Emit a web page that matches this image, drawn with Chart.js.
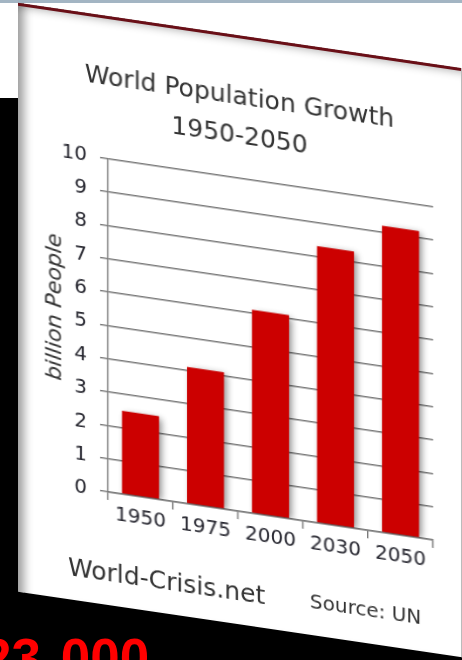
<!DOCTYPE html>
<html>
<head>
<meta charset="utf-8">
<script src="https://cdn.jsdelivr.net/npm/chart.js@4"></script>
<style>
    html, body { margin: 0; padding: 0; }
    body { width: 462px; height: 660px; overflow: hidden; position: relative; background: #fff; font-family: 'DejaVu Sans', Verdana, sans-serif; }
    .top-strip { position: absolute; left: 0; top: 0; width: 462px; height: 3px; background: #a3b5c3; }
    .backdrop { position: absolute; left: 0; top: 98px; width: 462px; height: 562px; background: #000; }
    .big-number { position: absolute; left: -18px; top: 631px; font: bold 53px 'Liberation Sans', Arial, sans-serif; line-height: 1; color: #ff0000; white-space: pre; word-spacing: 5px; }
    /* the whole card is leaned like the photo */
    .stage { position: absolute; left: 0; top: 0; width: 462px; height: 660px; transform: skewY(8.4deg); transform-origin: 0 0; }
    .card { position: absolute; left: 18px; top: 0; width: 443px; height: 589px; background: #fff;
            box-shadow: inset 14px 0 10px -8px rgba(0,0,0,0.38), inset 0 12px 8px -8px rgba(0,0,0,0.3); border-right: 1px solid #bbb; }
    .card-line { position: absolute; left: 0; top: 0; width: 100%; height: 3px; background: #6a0f17; }
    .card canvas { position: absolute; left: 0; top: 0; }
    .footer-left { position: absolute; left: 50px; top: 544px; font-size: 25px; line-height: 1; color: #333; }
    .footer-right { position: absolute; left: 292px; top: 545px; font-size: 20px; line-height: 1; color: #333; }
</style>
</head>
<body>
<div class="top-strip"></div>
<div class="backdrop"></div>
<div class="big-number">23 000</div>
<div class="stage">
    <div class="card">
        <canvas id="population-chart" width="443" height="589"></canvas>
        <div class="card-line"></div>
        <div class="footer-left">World-Crisis.net</div>
        <div class="footer-right">Source: UN</div>
    </div>
</div>
<script>
const years = ['1950', '1975', '2000', '2030', '2050'];
const billions = [2.5, 4.1, 6.1, 8.3, 9.2];
const title_lines = ['World Population Growth', '1950-2050'];
const y_ticks = [0, 1, 2, 3, 4, 5, 6, 7, 8, 9, 10];

// soft drop shadow under the bars
const bar_shadow = {
    id: 'bar_shadow',
    beforeDatasetsDraw(chart) {
        let c = chart.ctx;
        c.save();
        c.shadowColor = 'rgba(0,0,0,0.45)';
        c.shadowBlur = 7;
        c.shadowOffsetX = 3;
        c.shadowOffsetY = 2;
    },
    afterDatasetsDraw(chart) {
        chart.ctx.restore();
    }
};

function load_chart() {
    Chart.defaults.font.family = "'DejaVu Sans', Verdana, sans-serif";
    let grid_colour = '#7a7a7a';

    let graph_config = {
        type: 'bar',
        data: {
            labels: years,
            datasets: [{
                label: 'billion People',
                data: billions,
                backgroundColor: '#cc0000',
                barPercentage: 0.57,
                categoryPercentage: 1
            }]
        },
        options: {
            responsive: false,
            animation: false,
            layout: { padding: 0 },
            plugins: {
                legend: { display: false },
                tooltip: { enabled: false },
                title: {
                    display: true,
                    text: title_lines,
                    color: '#333',
                    font: { size: 25, weight: 'normal', lineHeight: 1.55 },
                    padding: { top: 43, bottom: 22 }
                }
            },
            scales: {
                x: {
                    grid: { drawOnChartArea: false, offset: true, tickLength: 8, color: grid_colour, lineWidth: 1.4 },
                    border: { color: grid_colour, width: 1.4 },
                    ticks: { color: '#26262f', font: { size: 20 }, padding: 2 },
                    afterFit: s => { s.height = 113; }
                },
                y: {
                    min: 0,
                    max: 10,
                    afterBuildTicks: s => { s.ticks = y_ticks.map(v => ({ value: v })); },
                    grid: { color: grid_colour, lineWidth: 1.4, tickLength: 8 },
                    border: { color: grid_colour, width: 1.4 },
                    ticks: { color: '#26262f', font: { size: 20 }, padding: 13 },
                    title: {
                        display: true,
                        text: '   billion People',
                        color: '#333',
                        font: { size: 22, style: 'italic' },
                        padding: { top: 24, bottom: 0 }
                    },
                    afterFit: s => { s.width = 90; }
                },
                // empty margin on the right so the title centres on the whole card
                right_margin: {
                    axis: 'y',
                    position: 'right',
                    grid: { display: false },
                    border: { display: false },
                    ticks: { display: false },
                    afterFit: s => { s.width = 28; }
                }
            }
        },
        plugins: [bar_shadow]
    };

    const ctx = document.getElementById('population-chart').getContext('2d');
    new Chart(ctx, graph_config);
}

window.addEventListener('load', e => {
    load_chart();
});
</script>
</body>
</html>
